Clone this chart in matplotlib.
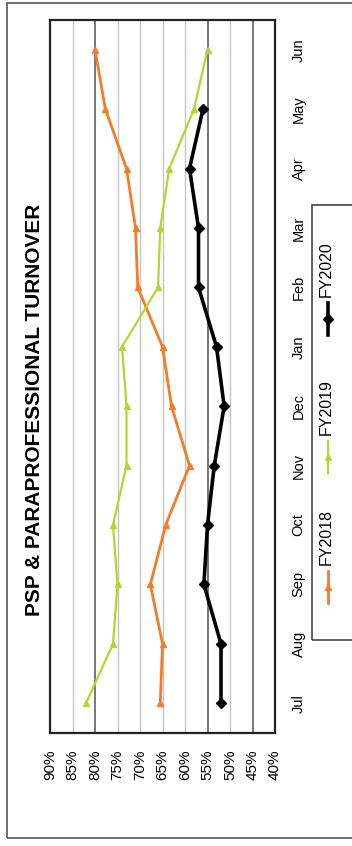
import matplotlib
matplotlib.use("Agg")
import matplotlib.pyplot as plt
from matplotlib.lines import Line2D
from matplotlib.patches import Rectangle

plt.rcParams['font.family'] = ['Liberation Sans', 'DejaVu Sans']

months = ["Jul", "Aug", "Sep", "Oct", "Nov", "Dec", "Jan", "Feb", "Mar", "Apr", "May", "Jun"]
fy2018 = [65.5, 65.0, 67.7, 64.3, 59.0, 63.0, 65.0, 70.5, 71.0, 73.0, 77.7, 80.0]
fy2019 = [82.0, 76.0, 75.0, 76.0, 73.0, 73.0, 74.0, 66.0, 65.5, 63.5, 58.0, 55.0]
fy2020 = [52.0, 52.0, 55.8, 55.0, 53.5, 51.3, 53.0, 57.0, 57.0, 59.0, 56.0]
series_names = ["FY2018", "FY2019", "FY2020"]
pct_ticks = [90, 85, 80, 75, 70, 65, 60, 55, 50, 45, 40]

W, H = 352, 846
fig = plt.figure(figsize=(W / 100, H / 100), dpi=100)


def fx(px):
    return px / W


def fy(py):
    return 1 - py / H


# outer chart frame
fig.add_artist(Rectangle((fx(7), fy(838)), 1.1, fy(3) - fy(838), transform=fig.transFigure,
                         fill=False, edgecolor="#555555", linewidth=1.2))

ax = fig.add_axes([fx(50), fy(733), fx(275) - fx(50), fy(20) - fy(733)])

styles = [
    dict(color="#f07d28", marker="^", markersize=5, linewidth=2.0),
    dict(color="#b8d432", marker="^", markersize=4, linewidth=1.6),
    dict(color="black", marker="D", markersize=5.5, linewidth=2.6),
]
data = [fy2018, fy2019, fy2020]
for vals, st in zip(data, styles):
    ax.plot(vals, range(len(vals)), zorder=3, **st)

ax.set_xlim(90, 40)
ax.set_ylim(-0.5, len(months) - 0.5)
ax.set_xticks(pct_ticks)
ax.set_xticklabels([f"{p}%" for p in pct_ticks], rotation=90, fontsize=11)
ax.set_yticks(range(len(months)))
ax.set_yticklabels(months, rotation=90, fontsize=10.5, va="center")
ax.yaxis.tick_right()
ax.tick_params(axis="y", length=0, pad=12)
ax.tick_params(axis="x", length=0, pad=12)

for p in pct_ticks[1:-1]:
    dark = p in (80, 55, 45)
    ax.axvline(p, color="#777777" if dark else "#c4c4c4", linewidth=1.4 if dark else 1.0, zorder=1)
for sp in ax.spines.values():
    sp.set_linewidth(1.6)
    sp.set_color("#222222")

fig.text(fx(35), fy(410), "PSP & PARAPROFESSIONAL TURNOVER", rotation=90,
         ha="center", va="center", fontsize=15, fontweight="bold")

# legend box, drawn by hand so the entries can run vertically
fig.add_artist(Rectangle((fx(312), fy(640)), 1.0, fy(205) - fy(640), transform=fig.transFigure,
                         fill=False, edgecolor="#444444", linewidth=1.2))
entry_bottoms = [603, 473, 335]
for name, st, yb in zip(series_names, styles, entry_bottoms):
    fig.add_artist(Line2D([fx(328)] * 3, [fy(yb), fy(yb - 16), fy(yb - 32)], transform=fig.transFigure,
                          markevery=[1], **st))
    fig.text(fx(326), fy(yb - 38), name, rotation=90, ha="center", va="bottom", fontsize=11.5)

fig.savefig("out.png", dpi=100)
